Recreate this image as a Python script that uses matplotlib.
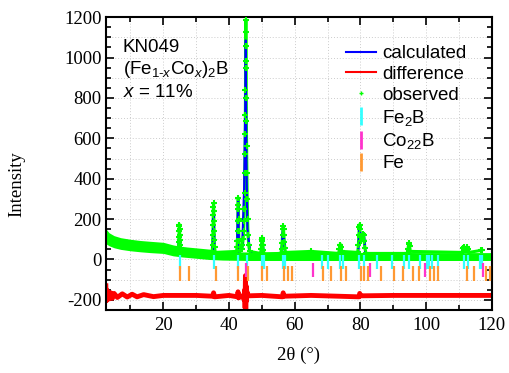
import matplotlib.pyplot as plt
from matplotlib.lines import Line2D

plt.rcParams['font.family'] = ['Liberation Serif', 'DejaVu Serif']
plt.rcParams['mathtext.fontset'] = 'custom'
plt.rcParams['mathtext.rm'] = 'Liberation Sans'
plt.rcParams['mathtext.it'] = 'Liberation Sans:italic'
plt.rcParams['axes.unicode_minus'] = False

# observed background band (2theta, lower edge, upper edge)
band_x = [2.5, 3.5, 5, 7, 10, 13, 16, 20, 23, 26, 30, 34, 38, 42, 46, 50, 55, 60, 70, 80, 90, 100, 110, 120]
band_lo = [78, 68, 58, 50, 43, 38, 34, 30, 18, 12, 6, 0, -3, -4, -5, -5, -5, -5, -5, -5, -5, -5, -5, -5]
band_hi = [152, 132, 118, 108, 100, 94, 90, 85, 72, 62, 52, 45, 41, 38, 37, 36, 36, 35, 35, 35, 35, 34, 34, 34]

# observed points on the Bragg peaks
obs_x = [24.6, 24.7, 24.75, 24.8, 24.85, 24.9, 24.95, 25.0, 25.05, 25.15, 25.3,
         34.9, 35.0, 35.1, 35.15, 35.2, 35.25, 35.3, 35.35, 35.4, 35.45, 35.5, 35.6, 35.8,
         42.3, 42.45, 42.55, 42.65, 42.7, 42.75, 42.8, 42.85, 42.9, 42.95, 43.05, 43.2, 43.5,
         43.9, 44.1, 44.3, 44.45, 44.55, 44.65, 44.75, 44.82, 44.88, 44.94, 44.98, 45.02,
         45.06, 45.1, 45.14, 45.18, 45.22, 45.26, 45.3, 45.36, 45.45, 45.55, 45.65, 45.8,
         46.0, 46.3,
         49.6, 49.8, 49.9, 50.0, 50.1, 50.2, 50.3, 50.45, 50.7,
         55.8, 56.0, 56.15, 56.3, 56.4, 56.5, 56.6, 56.7, 56.85, 57.0, 57.2,
         65.1,
         73.4, 73.6, 73.8, 73.95, 74.1, 74.3,
         79.2, 79.4, 79.55, 79.65, 79.75, 79.85, 80.0, 80.2, 80.5, 80.8, 81.0, 81.2, 81.4, 81.7,
         94.3, 94.5, 94.7, 94.85, 95.0, 95.2,
         111.0, 111.3, 111.6, 111.9, 112.2, 112.5, 112.8, 113.1,
         116.7, 116.9]
obs_y = [60, 85, 110, 140, 165, 173, 150, 120, 95, 70, 55,
         40, 70, 120, 170, 220, 262, 278, 240, 190, 140, 95, 60, 35,
         40, 60, 90, 140, 190, 250, 305, 270, 200, 140, 90, 60, 45,
         50, 70, 100, 140, 190, 250, 330, 430, 520, 622, 716, 837,
         983, 1127, 1188, 1058, 949, 800, 686, 560, 430, 300, 200, 120,
         70, 40,
         30, 50, 70, 95, 107, 92, 70, 45, 28,
         30, 50, 80, 120, 150, 165, 150, 120, 85, 55, 35,
         40,
         30, 50, 70, 74, 60, 40,
         35, 70, 120, 160, 173, 150, 110, 90, 110, 127, 120, 90, 55, 30,
         30, 50, 75, 80, 65, 40,
         35, 55, 63, 50, 45, 60, 50, 35,
         45, 45]

# calculated profile
calc_x = [2.5, 10, 20, 24.6, 24.9, 25.2, 30, 35.0, 35.3, 35.6, 40, 42.4, 42.75, 43.1,
          44.0, 44.6, 44.9, 45.1, 45.3, 45.6, 46.5, 49.7, 50.15, 50.6, 55.9, 56.5, 57.1,
          65, 73.5, 73.9, 74.3, 79.3, 79.7, 80.2, 80.7, 81.1, 81.6, 94.4, 94.8, 95.2,
          111, 111.5, 112, 112.6, 113.2, 120]
calc_y = [110, 70, 58, 45, 170, 45, 30, 22, 270, 22, 20, 20, 300, 25,
          60, 350, 700, 1085, 500, 150, 30, 18, 105, 18, 18, 165, 18,
          15, 15, 72, 15, 15, 170, 100, 110, 125, 15, 15, 80, 15,
          15, 60, 40, 55, 15, 15]

# difference curve
diff_x = [2.5, 2.6, 2.7, 2.9, 3.2, 3.6, 4.0, 4.5, 5.0, 6.0, 7.5, 9, 10.5, 12, 14, 17, 20,
          25, 30, 35.0, 35.3, 35.6, 40, 42.6, 42.75, 42.9, 44.3, 44.6, 44.8, 44.9, 45.0,
          45.1, 45.2, 45.3, 45.5, 45.8, 50, 56.3, 56.5, 56.7, 65, 79.6, 79.8, 80, 90,
          100, 110, 120]
diff_y = [-130, -205, -150, -200, -160, -195, -165, -192, -168, -188, -170, -186, -172,
          -185, -174, -184, -178, -178, -178, -182, -165, -185, -178, -185, -160, -190,
          -178, -200, -150, -240, -80, -250, -130, -205, -160, -180, -178, -185, -165,
          -182, -178, -185, -168, -180, -178, -178, -178, -178]

# reflection positions
fe2b_pos = [25.0, 35.4, 42.75, 45.4, 50.0, 50.6, 56.4, 57.1, 68.2, 70.3, 73.8, 74.6,
            79.6, 81.0, 85.0, 89.6, 93.2, 94.7, 98.3, 100.3, 100.9, 101.9, 103.6,
            111.6, 112.8, 116.3, 117.1]
co22b_pos = [45.2, 65.6, 83.0, 99.8, 117.4]
fe_pos = [25.1, 27.8, 35.9, 42.75, 45.8, 50.0, 51.5, 56.7, 58.0, 59.3, 68.7, 71.0,
          74.1, 75.6, 80.2, 81.2, 82.2, 86.3, 90.3, 92.9, 96.0, 98.0, 101.3, 102.3,
          103.6, 112.6, 114.6, 118.4, 119.4]

blue = '#0000ff'
red = '#ff0000'
green = '#00ff00'
cyan = '#33ffff'
magenta = '#ff33cc'
orange = '#ff9933'

fig = plt.figure(figsize=(5.09, 3.73), dpi=100)
ax = fig.add_axes([0.208, 0.169, 0.758, 0.785])

# dotted grid
for gx in range(10, 120, 10):
    ax.axvline(gx, color='#cccccc', lw=0.7, ls=(0, (1, 2)), zorder=0)
for gy in range(-200, 1201, 100):
    ax.axhline(gy, color='#cccccc', lw=0.7, ls=(0, (1, 2)), zorder=0)

ax.plot(diff_x, diff_y, color=red, lw=3.5, zorder=2)
ax.plot(obs_x, obs_y, color=green, lw=2.2, zorder=1.5)
ax.plot(calc_x, calc_y, color=blue, lw=1.5, zorder=2)
ax.fill_between(band_x, band_lo, band_hi, color=green, lw=0, zorder=2.5)
ax.plot(obs_x, obs_y, ls='none', marker='+', ms=5, mew=1.5, color=green, zorder=3)

ax.vlines(fe2b_pos, -45, 20, color=cyan, lw=1.6, zorder=4)
ax.vlines(co22b_pos, -85, -15, color=magenta, lw=1.6, zorder=4)
ax.vlines(fe_pos, -105, -30, color=orange, lw=1.6, zorder=4)

ax.set_xlim(2.5, 120)
ax.set_ylim(-250, 1200)
ax.set_xticks(range(20, 121, 20))
ax.set_xticks(range(10, 120, 10), minor=True)
ax.set_yticks(range(-200, 1201, 200))
ax.set_yticks(range(-250, 1201, 50), minor=True)
ax.tick_params(which='both', direction='in', top=True, right=True, width=1.2,
               labelsize=13.5, pad=5)
ax.tick_params(which='major', length=6)
ax.tick_params(which='minor', length=3.5)
ax.tick_params(axis='y', pad=3)
for s in ax.spines.values():
    s.set_linewidth(1.5)

ax.set_xlabel('2θ (°)', fontsize=13.5)
ax.xaxis.set_label_coords(0.5, -0.125)
ax.set_ylabel('Intensity', fontsize=13.5)
ax.yaxis.set_label_coords(-0.21, 0.43)

sans = 'Liberation Sans'
ax.text(0.044, 0.898, 'KN049', family=sans, fontsize=13.5, va='center', transform=ax.transAxes)
ax.text(0.044, 0.822, r'(Fe$_{1\mathrm{\text{-}}x}$Co$_{x}$)$_{2}$B', family=sans, fontsize=13.5,
        va='center', transform=ax.transAxes)
ax.text(0.044, 0.744, r'$x$ = 11%', family=sans, fontsize=13.5, va='center', transform=ax.transAxes)

handles = [
    Line2D([], [], color=blue, lw=1.5),
    Line2D([], [], color=red, lw=1.5),
    Line2D([], [], color=green, marker='+', ms=3, mew=1, ls='none'),
    Line2D([], [], color=cyan, marker='|', ms=13, mew=2, ls='none'),
    Line2D([], [], color=magenta, marker='|', ms=13, mew=2, ls='none'),
    Line2D([], [], color=orange, marker='|', ms=13, mew=2, ls='none'),
]
labels = ['calculated', 'difference', 'observed', 'Fe$_2$B', 'Co$_{22}$B', 'Fe']
ax.legend(handles, labels, loc='upper left', bbox_to_anchor=(0.622, 0.905), frameon=False,
          prop={'family': sans, 'size': 13.5}, borderpad=0, borderaxespad=0,
          handlelength=1.6, handletextpad=0.35, labelspacing=0.2)

fig.savefig('out.png', dpi=100)
